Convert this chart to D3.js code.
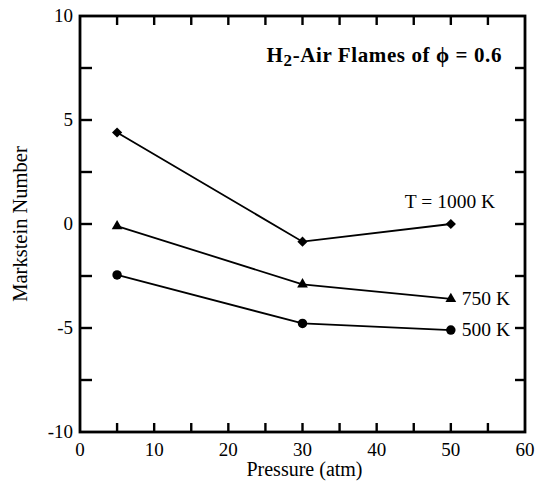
<!DOCTYPE html>
<html>
<head>
<meta charset="utf-8">
<script src="https://cdn.jsdelivr.net/npm/d3@7"></script>
<style>
  body { margin: 0; background: #fff; }
  text { font-family: "Liberation Serif", "DejaVu Serif", serif; fill: #000; }
</style>
</head>
<body>
<svg id="chart" width="538" height="486"></svg>
<script>
// Pressure (atm) and Markstein number for each temperature
const pressure = [5, 30, 50]
const ma1000 = [4.4, -0.85, 0.0]
const ma750 = [-0.1, -2.9, -3.6]
const ma500 = [-2.45, -4.78, -5.1]
const seriesLabels = ["T = 1000 K", "750 K", "500 K"]
const xTickLabels = [0, 10, 20, 30, 40, 50, 60]
const yTickLabels = [-10, -5, 0, 5, 10]

const MARGIN = { top: 16, right: 13, bottom: 54, left: 80 }
const W = 538, H = 486
const innerW = W - MARGIN.left - MARGIN.right
const innerH = H - MARGIN.top - MARGIN.bottom

const svg = d3.select("#chart")
const g = svg.append("g").attr("transform", `translate(${MARGIN.left},${MARGIN.top})`)

const x = d3.scaleLinear().domain([0, 60]).range([0, innerW])
const y = d3.scaleLinear().domain([-10, 10]).range([innerH, 0])

// Frame
g.append("rect")
  .attr("width", innerW).attr("height", innerH)
  .attr("fill", "none").attr("stroke", "#000").attr("stroke-width", 2.8)

// Inward ticks on all four sides
const xMinor = d3.range(5, 60, 5)
const yMinor = d3.range(-7.5, 10, 2.5)
const tickStyle = sel => sel.attr("stroke", "#000").attr("stroke-width", 2.4)
xMinor.forEach(v => {
  tickStyle(g.append("line").attr("x1", x(v)).attr("x2", x(v)).attr("y1", innerH).attr("y2", innerH - 9))
  tickStyle(g.append("line").attr("x1", x(v)).attr("x2", x(v)).attr("y1", 0).attr("y2", 9))
})
yMinor.forEach(v => {
  tickStyle(g.append("line").attr("x1", 0).attr("x2", 12).attr("y1", y(v)).attr("y2", y(v)))
  tickStyle(g.append("line").attr("x1", innerW).attr("x2", innerW - 10).attr("y1", y(v)).attr("y2", y(v)))
})

// Tick labels
g.selectAll(".xl").data(xTickLabels).join("text")
  .attr("x", d => x(d)).attr("y", innerH + 24)
  .attr("text-anchor", "middle").attr("font-size", 19)
  .text(d => d)
g.selectAll(".yl").data(yTickLabels).join("text")
  .attr("x", -7).attr("y", d => y(d) + 6)
  .attr("text-anchor", "end").attr("font-size", 19)
  .text(d => d)

// Axis titles
g.append("text")
  .attr("x", innerW / 2 + 2).attr("y", innerH + 44)
  .attr("text-anchor", "middle").attr("font-size", 20)
  .text("Pressure (atm)")
svg.append("text")
  .attr("transform", `translate(27,${MARGIN.top + innerH / 2}) rotate(-90)`)
  .attr("text-anchor", "middle").attr("font-size", 20.5)
  .text("Markstein Number")

// Title
const title = g.append("text")
  .attr("x", 422).attr("y", 46)
  .attr("text-anchor", "end").attr("font-size", 21).attr("font-weight", "bold")
  .attr("letter-spacing", 0.6)
title.append("tspan").text("H")
title.append("tspan").attr("font-size", 17).attr("dy", 4).text("2")
title.append("tspan").attr("dy", -4).text("-Air Flames of \u03d5 = 0.6")

// Series
const line = d3.line().x((d, i) => x(pressure[i])).y(d => y(d))
const series = [ma1000, ma750, ma500]
series.forEach(vals => {
  g.append("path").attr("d", line(vals))
    .attr("fill", "none").attr("stroke", "#000").attr("stroke-width", 1.8)
})

const square = d3.symbol().type(d3.symbolSquare).size(52)
const triangle = d3.symbol().type(d3.symbolTriangle).size(50)
const circle = d3.symbol().type(d3.symbolCircle).size(70)
const shapes = [square, triangle, circle]
const rotations = [45, 0, 0]
series.forEach((vals, s) => {
  g.selectAll(".m" + s).data(vals).join("path")
    .attr("transform", (d, i) => `translate(${x(pressure[i])},${y(d)}) rotate(${rotations[s]})`)
    .attr("d", shapes[s]())
    .attr("fill", "#000")
})

// Series labels
g.append("text").attr("x", x(50) - 46).attr("y", y(ma1000[2]) - 16)
  .attr("font-size", 19.5).text(seriesLabels[0])
g.append("text").attr("x", x(50) + 11).attr("y", y(ma750[2]) + 6)
  .attr("font-size", 19.5).text(seriesLabels[1])
g.append("text").attr("x", x(50) + 11).attr("y", y(ma500[2]) + 6)
  .attr("font-size", 19.5).text(seriesLabels[2])
</script>
</body>
</html>
